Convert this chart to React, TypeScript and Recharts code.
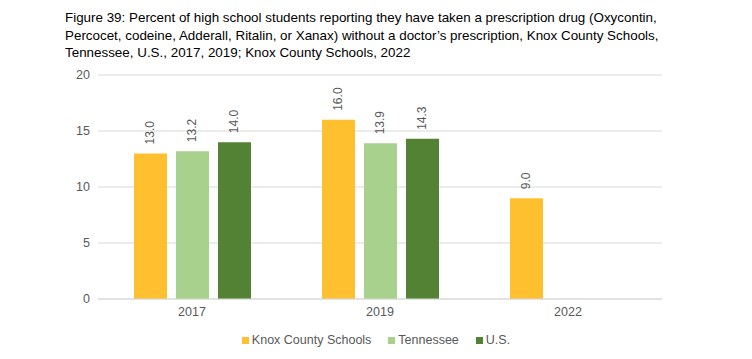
import React from 'react';
import { BarChart, Bar, XAxis, YAxis, CartesianGrid, Legend, LabelList } from 'recharts';

const categories = ['2017', '2019', '2022'];
const knoxValues: (number | null)[] = [13.0, 16.0, 9.0];
const tennesseeValues: (number | null)[] = [13.2, 13.9, null];
const usValues: (number | null)[] = [14.0, 14.3, null];
const yTicks = [0, 5, 10, 15, 20];
const seriesNames = ['Knox County Schools', 'Tennessee', 'U.S.'];
const seriesColors = ['#FFC02F', '#A9D18E', '#548235'];

const data = categories.map((c, i) => ({
  year: c,
  knox: knoxValues[i],
  tennessee: tennesseeValues[i],
  us: usValues[i],
}));

const FONT = '"Liberation Sans", Arial, sans-serif';

const renderLabel = (props: any) => {
  const { x, y, width, value } = props;
  if (value === null || value === undefined) return null;
  const cx = Number(x) + Number(width) / 2;
  const ty = Number(y) - 9;
  return (
    <text
      x={cx}
      y={ty}
      transform={`rotate(-90, ${cx}, ${ty})`}
      textAnchor="start"
      dominantBaseline="central"
      fill="#595959"
      fontSize={12}
      fontFamily={FONT}
    >
      {Number(value).toFixed(1)}
    </text>
  );
};

const renderLegend = () => (
  <div
    style={{
      height: 20,
      display: 'flex',
      justifyContent: 'center',
      alignItems: 'center',
      fontFamily: FONT,
      fontSize: 12.5,
      color: '#595959',
    }}
  >
    {seriesNames.map((n, i) => (
      <div key={n} style={{ display: 'flex', alignItems: 'center', marginRight: i < 2 ? 17 : 0 }}>
        <span style={{ width: 7, height: 7, background: seriesColors[i], display: 'inline-block', marginRight: 3 }} />
        <span>{n}</span>
      </div>
    ))}
  </div>
);

export default function App() {
  return (
    <div style={{ position: 'absolute', left: 0, top: 0, width: 752, height: 359, background: '#fff' }}>
      <div
        style={{
          position: 'absolute',
          left: 65,
          top: 9,
          width: 687,
          whiteSpace: 'nowrap',
          fontFamily: FONT,
          fontSize: 13.4,
          lineHeight: '17.5px',
          color: '#000',
        }}
      >
        Figure 39: Percent of high school students reporting they have taken a prescription drug (Oxycontin,
        <br />
        Percocet, codeine, Adderall, Ritalin, or Xanax) without a doctor’s prescription, Knox County Schools,
        <br />
        Tennessee, U.S., 2017, 2019; Knox County Schools, 2022
      </div>
      <div style={{ position: 'absolute', left: 0, top: 0 }}>
        <BarChart
          width={752}
          height={359}
          data={data}
          margin={{ top: 75, right: 90, bottom: 9, left: 0 }}
          barSize={33}
          barGap={9}
        >
          <CartesianGrid vertical={false} stroke="#D9D9D9" strokeWidth={1} />
          <XAxis
            dataKey="year"
            height={31}
            axisLine={{ stroke: '#D9D9D9' }}
            tickLine={false}
            tick={{ fill: '#595959', fontSize: 12.5, fontFamily: FONT }}
          />
          <YAxis
            width={98}
            domain={[0, 20]}
            ticks={yTicks}
            axisLine={false}
            tickLine={false}
            tick={{ fill: '#595959', fontSize: 12.5, fontFamily: FONT }}
          />
          <Legend
            verticalAlign="bottom"
            content={renderLegend}
            wrapperStyle={{ left: 0, width: 752 }}
          />
          <Bar dataKey="knox" name={seriesNames[0]} fill={seriesColors[0]} isAnimationActive={false}>
            <LabelList dataKey="knox" content={renderLabel} />
          </Bar>
          <Bar dataKey="tennessee" name={seriesNames[1]} fill={seriesColors[1]} isAnimationActive={false}>
            <LabelList dataKey="tennessee" content={renderLabel} />
          </Bar>
          <Bar dataKey="us" name={seriesNames[2]} fill={seriesColors[2]} isAnimationActive={false}>
            <LabelList dataKey="us" content={renderLabel} />
          </Bar>
        </BarChart>
      </div>
    </div>
  );
}
